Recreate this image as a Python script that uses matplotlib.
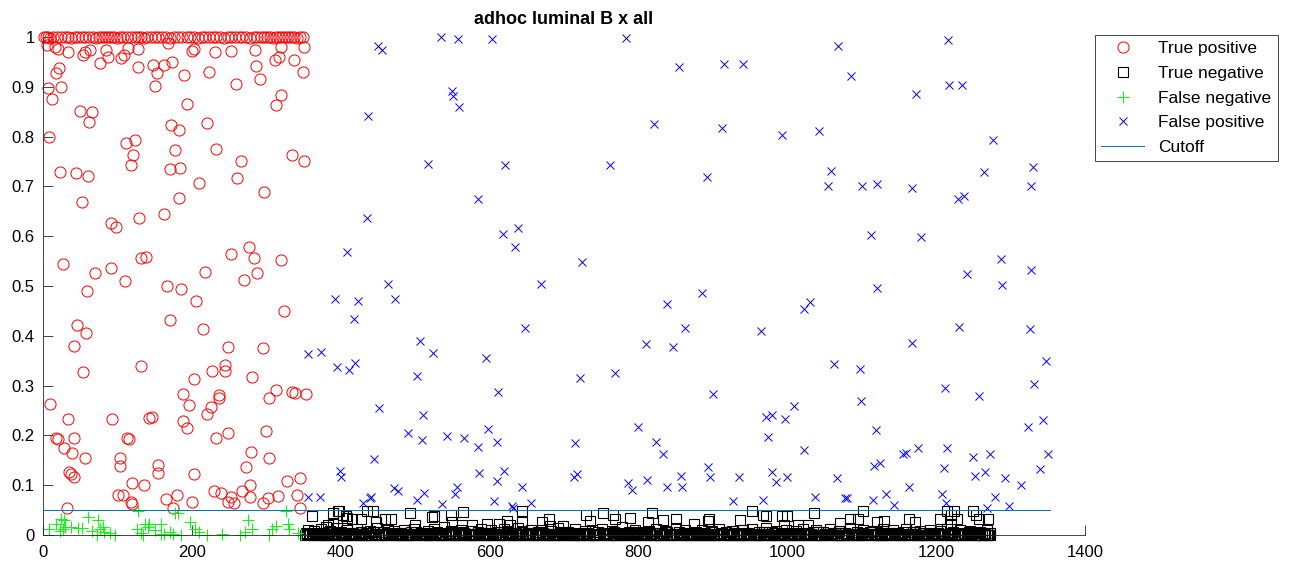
import numpy as np
import matplotlib
matplotlib.use("Agg")
import matplotlib.pyplot as plt

plt.rcParams['font.family'] = ['Liberation Sans', 'DejaVu Sans']

title = 'adhoc luminal B x all'
labels = ['True positive', 'True negative', 'False negative', 'False positive', 'Cutoff']
cutoff = 0.05
cutoff_x = [1, 1353]

# true positives (score > cutoff, positive samples)
tp_x = [1, 4, 7, 10, 14, 19, 24, 29, 33, 38, 43, 47, 52, 57, 62, 67, 71, 75, 79, 83,
        87, 91, 95, 99, 103, 108, 113, 118, 123, 127, 131, 136, 140, 145, 150, 155, 160, 165, 170, 176,
        181, 187, 193, 198, 203, 208, 213, 218, 223, 228, 233, 238, 243, 248, 253, 258, 263, 268, 273, 278,
        283, 288, 293, 297, 301, 305, 309, 313, 317, 321, 325, 329, 333, 337, 341, 345, 349,
        5, 16, 20, 34, 54, 56, 63, 77, 85, 88, 105, 109, 114, 128, 128, 148, 153, 150, 163, 173,
        168, 189, 200, 203, 223, 231, 253, 259, 285, 286, 292, 312, 317, 320, 337, 351, 349,
        7, 12, 17, 21, 24, 8, 50, 66, 62, 111, 123, 121, 118, 23, 45, 61, 53, 92, 98, 129, 163,
        172, 183, 177, 194, 221, 233, 171, 184, 210, 183, 266, 261, 297, 320, 313, 334, 351,
        277, 253, 283, 288, 320, 27, 70, 91, 132, 139, 218, 270, 110,
        59, 166, 185, 206, 324, 171, 215, 46, 58, 42, 249, 295, 54, 131, 227, 244, 244, 281, 203,
        9, 188, 196, 237, 237, 226, 220, 313, 304, 334, 338, 353, 33, 93, 142, 147, 188, 193, 300,
        18, 20, 41, 113, 115, 232, 249, 28, 39, 56, 104, 103, 155, 154, 280, 304, 273,
        35, 37, 42, 203, 120, 136, 278, 328, 345, 101, 107, 118, 119, 165, 180, 200, 230, 239,
        249, 253, 256, 267, 278, 296, 302, 316, 341, 345, 32, 175]
tp_y = [1.0, 0.999, 1.0, 0.998, 1.0, 1.0, 0.999, 1.0, 1.0, 0.998, 1.0, 1.0, 0.999, 1.0, 1.0, 1.0, 0.998, 1.0, 1.0, 0.999,
        1.0, 1.0, 1.0, 0.998, 1.0, 1.0, 0.999, 1.0, 1.0, 1.0, 1.0, 0.998, 1.0, 1.0, 0.999, 1.0, 1.0, 1.0, 0.998, 1.0,
        1.0, 0.999, 1.0, 1.0, 1.0, 0.998, 1.0, 1.0, 1.0, 0.999, 1.0, 1.0, 0.998, 1.0, 1.0, 1.0, 0.999, 1.0, 1.0, 0.998,
        1.0, 1.0, 0.999, 1.0, 1.0, 1.0, 0.998, 1.0, 1.0, 1.0, 0.999, 1.0, 1.0, 1.0, 0.998, 1.0, 1.0,
        0.984, 0.98, 0.976, 0.969, 0.964, 0.97, 0.974, 0.947, 0.974, 0.96, 0.957, 0.964, 0.978, 0.976, 0.94, 0.944, 0.927, 0.902, 0.944, 0.95,
        0.988, 0.924, 0.972, 0.976, 0.93, 0.97, 0.972, 0.905, 0.974, 0.942, 0.916, 0.954, 0.96, 0.98, 0.954, 0.98, 0.93,
        0.897, 0.876, 0.927, 0.938, 0.9, 0.80, 0.851, 0.85, 0.83, 0.788, 0.793, 0.764, 0.743, 0.728, 0.726, 0.721, 0.669, 0.627, 0.619, 0.637, 0.644,
        0.823, 0.813, 0.773, 0.865, 0.827, 0.776, 0.734, 0.736, 0.706, 0.676, 0.751, 0.717, 0.689, 0.884, 0.863, 0.764, 0.751,
        0.579, 0.564, 0.556, 0.527, 0.552, 0.544, 0.527, 0.536, 0.557, 0.558, 0.529, 0.512, 0.51,
        0.489, 0.50, 0.494, 0.469, 0.45, 0.432, 0.414, 0.422, 0.406, 0.38, 0.378, 0.375, 0.328, 0.34, 0.329, 0.341, 0.33, 0.317, 0.313,
        0.264, 0.283, 0.261, 0.281, 0.275, 0.258, 0.242, 0.291, 0.276, 0.287, 0.286, 0.283, 0.232, 0.232, 0.234, 0.236, 0.228, 0.214, 0.209,
        0.194, 0.193, 0.194, 0.194, 0.192, 0.195, 0.204, 0.174, 0.164, 0.155, 0.154, 0.139, 0.141, 0.124, 0.166, 0.154, 0.137,
        0.126, 0.122, 0.117, 0.122, 0.105, 0.10, 0.10, 0.108, 0.115, 0.08, 0.08, 0.066, 0.063, 0.072, 0.08, 0.066, 0.088, 0.084,
        0.067, 0.077, 0.064, 0.088, 0.077, 0.064, 0.074, 0.079, 0.08, 0.054, 0.055, 0.055]

# false negatives (score <= cutoff, positive samples)
fn_x = [8, 18, 24, 28, 27, 30, 23, 38, 47, 53, 72, 74, 76, 80, 82, 97, 126, 131, 134, 137,
        141, 143, 128, 159, 158, 170, 174, 177, 181, 185, 198, 204, 210, 220, 265, 272, 276, 281, 304, 308,
        313, 327, 329, 331, 343, 347, 60, 66, 90, 150, 162, 240]
fn_y = [0.013, 0.023, 0.033, 0.03, 0.013, 0.017, 0.008, 0.017, 0.015, 0.015, 0.001, 0.03, 0.013, 0.017, 0.006, 0.001, 0.013, 0.005, 0.001, 0.023,
        0.017, 0.023, 0.048, 0.023, 0.003, 0.006, 0.003, 0.044, 0.044, 0.001, 0.027, 0.013, 0.006, 0.001, 0.001, 0.006, 0.03, 0.013, 0.001, 0.013,
        0.018, 0.048, 0.023, 0.013, 0.005, 0.001, 0.036, 0.009, 0.004, 0.011, 0.002, 0.003]

# false positives (score > cutoff, negative samples)
fp_x = [450, 456, 535, 557, 603, 549, 551, 559, 436, 517, 621, 584, 435, 618, 638, 634, 409, 724, 464, 669,
        783, 854, 915, 940, 1068, 821, 912, 993, 1042, 762, 892, 1059, 1055,
        1216, 1086, 1217, 1235, 1173, 1276, 1264, 1330, 1328, 1101, 1121, 1168, 1230, 1237, 1112, 1180, 1287, 1242, 1327, 1289,
        392, 423, 473, 418, 648, 506, 524, 595, 395, 419, 411, 503, 722, 611, 451, 510, 598, 490, 509, 543,
        566, 585, 610, 715, 445, 399, 401, 586, 620, 610, 644, 713, 718, 471, 477, 556, 554, 439, 441, 430,
        502, 512, 536, 606, 630, 631, 655, 356, 372, 356, 373,
        886, 839, 863, 810, 847, 768, 965, 1022, 1031, 1063, 900, 1009, 971, 980, 997, 974, 800, 823, 833, 1022,
        894, 896, 935, 980, 985, 1000, 1067, 786, 792, 812, 838, 857, 859, 927, 968, 1037, 1078,
        1120, 1231, 1326, 1167, 1347, 1098, 1212, 1257, 1332, 1099, 1324, 1343, 1119, 1156, 1159, 1176, 1215, 1249, 1273, 1350,
        1116, 1125, 1210, 1252, 1265, 1292, 1314, 1339, 1080, 1115, 1133, 1144, 1164, 1208, 1213, 1279, 1298, 1268]
fp_y = [0.981, 0.974, 0.999, 0.995, 0.995, 0.892, 0.882, 0.86, 0.842, 0.744, 0.742, 0.674, 0.636, 0.604, 0.616, 0.579, 0.569, 0.549, 0.505, 0.505,
        0.997, 0.939, 0.945, 0.945, 0.982, 0.825, 0.817, 0.803, 0.811, 0.742, 0.718, 0.731, 0.70,
        0.993, 0.922, 0.904, 0.904, 0.886, 0.793, 0.728, 0.738, 0.70, 0.701, 0.705, 0.696, 0.675, 0.681, 0.602, 0.599, 0.554, 0.525, 0.532, 0.503,
        0.474, 0.469, 0.473, 0.433, 0.416, 0.39, 0.366, 0.355, 0.338, 0.345, 0.331, 0.32, 0.315, 0.288, 0.256, 0.24, 0.212, 0.204, 0.19, 0.199,
        0.194, 0.177, 0.186, 0.184, 0.153, 0.129, 0.116, 0.125, 0.129, 0.108, 0.097, 0.116, 0.122, 0.094, 0.088, 0.097, 0.082, 0.075, 0.077, 0.064,
        0.07, 0.085, 0.062, 0.068, 0.059, 0.055, 0.064, 0.077, 0.077, 0.363, 0.367,
        0.486, 0.463, 0.415, 0.384, 0.378, 0.326, 0.41, 0.454, 0.467, 0.343, 0.283, 0.259, 0.236, 0.24, 0.233, 0.197, 0.216, 0.186, 0.163, 0.171,
        0.137, 0.117, 0.116, 0.126, 0.106, 0.117, 0.114, 0.105, 0.09, 0.11, 0.097, 0.118, 0.097, 0.068, 0.07, 0.077, 0.075,
        0.495, 0.418, 0.414, 0.385, 0.35, 0.333, 0.295, 0.28, 0.303, 0.27, 0.217, 0.231, 0.211, 0.163, 0.164, 0.175, 0.174, 0.156, 0.163, 0.163,
        0.139, 0.144, 0.134, 0.119, 0.127, 0.115, 0.10, 0.132, 0.074, 0.07, 0.082, 0.06, 0.097, 0.082, 0.064, 0.077, 0.059, 0.055]

# true negatives above the dense band
tn_x = [362, 389, 398, 403, 408, 383, 380, 389, 397, 407, 415, 427, 435, 444, 447, 459, 468, 493, 500, 522,
        526, 548, 550, 564, 563, 576, 597, 613, 623, 628, 644, 643, 670, 680, 681, 698,
        729, 735, 753, 766, 768, 789, 813, 818, 833, 850, 874, 895, 894, 936, 952, 968, 971, 993, 999, 996, 1015,
        1036, 1028, 1071, 1084, 1095, 1102, 1121, 1130, 1163, 1172, 1205, 1215, 1224, 1220, 1228, 1250, 1254, 1257, 1270, 1220]
tn_y = [0.039, 0.045, 0.048, 0.04, 0.035, 0.021, 0.017, 0.023, 0.048, 0.039, 0.032, 0.032, 0.048, 0.048, 0.027, 0.033, 0.032, 0.044, 0.021, 0.037,
        0.038, 0.041, 0.027, 0.047, 0.021, 0.021, 0.023, 0.023, 0.028, 0.02, 0.049, 0.027, 0.027, 0.032, 0.018, 0.018,
        0.041, 0.028, 0.044, 0.04, 0.033, 0.035, 0.027, 0.045, 0.03, 0.032, 0.023, 0.033, 0.028, 0.03, 0.049, 0.041, 0.038, 0.039, 0.039, 0.021, 0.02,
        0.045, 0.021, 0.025, 0.033, 0.032, 0.049, 0.027, 0.028, 0.032, 0.027, 0.033, 0.048, 0.049, 0.04, 0.032, 0.049, 0.04, 0.032, 0.032, 0.023]

# true negatives in the dense band just above zero
tn_band_x = [353, 356, 359, 364, 368, 373, 377, 382, 386, 391,
             395, 400, 404, 409, 413, 418, 422, 427, 431, 436,
             440, 445, 449, 454, 458, 463, 467, 472, 476, 481,
             485, 490, 494, 499, 503, 508, 512, 517, 521, 526,
             530, 535, 539, 544, 548, 553, 557, 562, 566, 571,
             575, 580, 584, 589, 593, 598, 602, 607, 611, 616,
             620, 625, 629, 634, 638, 643, 647, 652, 656, 661,
             665, 670, 674, 679, 683, 688, 692, 697, 701, 706,
             710, 715, 719, 724, 728, 733, 737, 742, 746, 751,
             755, 760, 764, 769, 773, 778, 782, 787, 791, 796,
             800, 805, 809, 814, 818, 823, 827, 832, 836, 841,
             845, 850, 854, 859, 863, 868, 872, 877, 881, 886,
             890, 895, 899, 904, 908, 913, 917, 922, 926, 931,
             935, 940, 944, 949, 953, 958, 962, 967, 971, 976,
             980, 985, 989, 994, 998, 1003, 1007, 1012, 1016, 1021,
             1025, 1030, 1034, 1039, 1043, 1048, 1052, 1057, 1061, 1066,
             1070, 1075, 1079, 1084, 1088, 1093, 1097, 1102, 1106, 1111,
             1115, 1120, 1124, 1129, 1133, 1138, 1142, 1147, 1151, 1156,
             1160, 1165, 1169, 1174, 1178, 1183, 1187, 1192, 1196, 1201,
             1205, 1210, 1214, 1219, 1223, 1228, 1232, 1237, 1241, 1246,
             1250, 1255, 1259, 1264, 1268, 1271, 1273]
tn_band_y = [0.004, 0.011, 0.002, 0.008, 0.000, 0.013, 0.005, 0.001, 0.009, 0.003,
             0.015, 0.006, 0.000, 0.010, 0.004, 0.002, 0.012, 0.007, 0.001, 0.005,
             0.009, 0.000, 0.014, 0.003, 0.006, 0.011, 0.002, 0.008, 0.000, 0.004,
             0.010, 0.001, 0.007, 0.013, 0.003, 0.005, 0.000, 0.009, 0.002, 0.012,
             0.006, 0.001, 0.016, 0.004, 0.008, 0.000, 0.003, 0.011, 0.005, 0.002,
             0.009, 0.000, 0.006, 0.013, 0.001, 0.004, 0.010, 0.002, 0.007, 0.000,
             0.012, 0.003, 0.005, 0.001, 0.015, 0.008, 0.000, 0.004, 0.010, 0.002,
             0.006, 0.011, 0.001, 0.003, 0.009, 0.000, 0.014, 0.005, 0.002, 0.007,
             0.000, 0.012, 0.004, 0.001, 0.008, 0.003, 0.010, 0.000, 0.006, 0.013,
             0.002, 0.005, 0.009, 0.001, 0.004, 0.017, 0.000, 0.007, 0.003, 0.011,
             0.006, 0.002, 0.000, 0.009, 0.004, 0.012, 0.001, 0.005, 0.008, 0.000,
             0.003, 0.014, 0.006, 0.002, 0.010, 0.000, 0.004, 0.007, 0.001, 0.011,
             0.005, 0.000, 0.009, 0.003, 0.013, 0.002, 0.006, 0.000, 0.008, 0.004,
             0.001, 0.010, 0.005, 0.000, 0.012, 0.003, 0.007, 0.002, 0.015, 0.000,
             0.006, 0.009, 0.001, 0.004, 0.011, 0.002, 0.000, 0.008, 0.005, 0.013,
             0.003, 0.000, 0.007, 0.010, 0.001, 0.006, 0.002, 0.012, 0.004, 0.000,
             0.009, 0.005, 0.001, 0.014, 0.003, 0.007, 0.000, 0.011, 0.002, 0.006,
             0.008, 0.000, 0.004, 0.012, 0.001, 0.005, 0.010, 0.003, 0.000, 0.007,
             0.013, 0.002, 0.006, 0.000, 0.009, 0.004, 0.001, 0.011, 0.005, 0.000,
             0.008, 0.003, 0.012, 0.001, 0.006, 0.000, 0.010, 0.004, 0.002, 0.009,
             0.005, 0.000, 0.007, 0.003, 0.011, 0.001, 0.004]

# more true negatives sitting on zero, between the band points above
tn_low_x = [355, 361, 366, 371, 375, 380, 384, 389, 393, 398,
            402, 407, 411, 416, 420, 425, 429, 434, 438, 443,
            447, 452, 456, 461, 465, 470, 474, 479, 483, 488,
            492, 497, 501, 506, 510, 515, 519, 524, 528, 533,
            537, 542, 546, 551, 555, 560, 564, 569, 573, 578,
            582, 587, 591, 596, 600, 605, 609, 614, 618, 623,
            627, 632, 636, 641, 645, 650, 654, 659, 663, 668,
            672, 677, 681, 686, 690, 695, 699, 704, 708, 713,
            717, 722, 726, 731, 735, 740, 744, 749, 753, 758,
            762, 767, 771, 776, 780, 785, 789, 794, 798, 803,
            807, 812, 816, 821, 825, 830, 834, 839, 843, 848,
            852, 857, 861, 866, 870, 875, 879, 884, 888, 893,
            897, 902, 906, 911, 915, 920, 924, 929, 933, 938,
            942, 947, 951, 956, 960, 965, 969, 974, 978, 983,
            987, 992, 996, 1001, 1005, 1010, 1014, 1019, 1023, 1028,
            1032, 1037, 1041, 1046, 1050, 1055, 1059, 1064, 1068, 1073,
            1077, 1082, 1086, 1091, 1095, 1100, 1104, 1109, 1113, 1118,
            1122, 1127, 1131, 1136, 1140, 1145, 1149, 1154, 1158, 1163,
            1167, 1172, 1176, 1181, 1185, 1190, 1194, 1199, 1203, 1208,
            1212, 1217, 1221, 1226, 1230, 1235, 1239, 1244, 1248, 1253,
            1257, 1262, 1266, 1270]
tn_low_y = [0.002, 0.000, 0.005, 0.001, 0.003, 0.000, 0.006, 0.002, 0.000, 0.004,
            0.001, 0.000, 0.003, 0.005, 0.000, 0.002, 0.001, 0.004, 0.000, 0.006,
            0.002, 0.000, 0.003, 0.001, 0.005, 0.000, 0.002, 0.004, 0.000, 0.001,
            0.003, 0.000, 0.006, 0.002, 0.000, 0.004, 0.001, 0.000, 0.005, 0.002,
            0.000, 0.003, 0.001, 0.004, 0.000, 0.002, 0.006, 0.000, 0.001, 0.003,
            0.000, 0.005, 0.002, 0.000, 0.004, 0.001, 0.003, 0.000, 0.002, 0.006,
            0.000, 0.001, 0.004, 0.002, 0.000, 0.003, 0.005, 0.000, 0.001, 0.002,
            0.004, 0.000, 0.003, 0.001, 0.000, 0.006, 0.002, 0.000, 0.004, 0.001,
            0.003, 0.000, 0.002, 0.005, 0.000, 0.001, 0.003, 0.000, 0.004, 0.002,
            0.000, 0.006, 0.001, 0.003, 0.000, 0.002, 0.004, 0.000, 0.001, 0.005,
            0.002, 0.000, 0.003, 0.001, 0.004, 0.000, 0.002, 0.006, 0.000, 0.003,
            0.001, 0.000, 0.005, 0.002, 0.000, 0.004, 0.001, 0.003, 0.000, 0.002,
            0.006, 0.000, 0.001, 0.004, 0.002, 0.000, 0.003, 0.005, 0.000, 0.001,
            0.002, 0.004, 0.000, 0.003, 0.001, 0.000, 0.006, 0.002, 0.000, 0.004,
            0.001, 0.003, 0.000, 0.002, 0.005, 0.000, 0.001, 0.003, 0.000, 0.004,
            0.002, 0.000, 0.006, 0.001, 0.003, 0.000, 0.002, 0.004, 0.000, 0.001,
            0.005, 0.002, 0.000, 0.003, 0.001, 0.004, 0.000, 0.002, 0.006, 0.000,
            0.003, 0.001, 0.000, 0.005, 0.002, 0.000, 0.004, 0.001, 0.003, 0.000,
            0.002, 0.006, 0.000, 0.001, 0.004, 0.002, 0.000, 0.003, 0.005, 0.000,
            0.001, 0.002, 0.004, 0.000, 0.003, 0.001, 0.000, 0.006, 0.002, 0.000,
            0.004, 0.001, 0.003, 0.000]

# the bulk of the true negatives, practically at zero
tn_zero_x = [352, 358, 363, 369, 374, 379, 383, 388, 392, 397,
             401, 406, 410, 415, 419, 424, 428, 433, 437, 442,
             446, 451, 455, 460, 464, 469, 473, 478, 482, 487,
             491, 496, 500, 505, 509, 514, 518, 523, 527, 532,
             536, 541, 545, 550, 554, 559, 563, 568, 572, 577,
             581, 586, 590, 595, 599, 604, 608, 613, 617, 622,
             626, 631, 635, 640, 644, 649, 653, 658, 662, 667,
             671, 676, 680, 685, 689, 694, 698, 703, 707, 712,
             716, 721, 725, 730, 734, 739, 743, 748, 752, 757,
             761, 766, 770, 775, 779, 784, 788, 793, 797, 802,
             806, 811, 815, 820, 824, 829, 833, 838, 842, 847,
             851, 856, 860, 865, 869, 874, 878, 883, 887, 892,
             896, 901, 905, 910, 914, 919, 923, 928, 932, 937,
             941, 946, 950, 955, 959, 964, 968, 973, 977, 982,
             986, 991, 995, 1000, 1004, 1009, 1013, 1018, 1022, 1027,
             1031, 1036, 1040, 1045, 1049, 1054, 1058, 1063, 1067, 1072,
             1076, 1081, 1085, 1090, 1094, 1099, 1103, 1108, 1112, 1117,
             1121, 1126, 1130, 1135, 1139, 1144, 1148, 1153, 1157, 1162,
             1166, 1171, 1175, 1180, 1184, 1189, 1193, 1198, 1202, 1207,
             1211, 1216, 1220, 1225, 1229, 1234, 1238, 1243, 1247, 1252,
             1256, 1261, 1265, 1269, 1272]
tn_zero_y = [0.000, 0.001, 0.000, 0.002, 0.000, 0.001, 0.000, 0.000, 0.002, 0.001,
             0.000, 0.002, 0.001, 0.000, 0.000, 0.001, 0.002, 0.000, 0.001, 0.000,
             0.002, 0.000, 0.001, 0.000, 0.000, 0.002, 0.001, 0.000, 0.001, 0.002,
             0.000, 0.001, 0.000, 0.002, 0.000, 0.000, 0.001, 0.002, 0.000, 0.001,
             0.001, 0.000, 0.002, 0.000, 0.001, 0.000, 0.000, 0.002, 0.001, 0.000,
             0.000, 0.002, 0.000, 0.001, 0.000, 0.001, 0.002, 0.000, 0.000, 0.001,
             0.002, 0.000, 0.001, 0.000, 0.002, 0.000, 0.001, 0.000, 0.000, 0.002,
             0.001, 0.000, 0.000, 0.002, 0.001, 0.000, 0.001, 0.000, 0.002, 0.000,
             0.000, 0.001, 0.002, 0.000, 0.000, 0.001, 0.000, 0.002, 0.001, 0.000,
             0.001, 0.000, 0.000, 0.002, 0.000, 0.001, 0.002, 0.000, 0.001, 0.000,
             0.000, 0.002, 0.001, 0.000, 0.001, 0.000, 0.000, 0.002, 0.000, 0.001,
             0.002, 0.000, 0.001, 0.000, 0.000, 0.001, 0.002, 0.000, 0.001, 0.000,
             0.000, 0.001, 0.000, 0.002, 0.001, 0.000, 0.000, 0.001, 0.002, 0.000,
             0.001, 0.000, 0.002, 0.000, 0.000, 0.001, 0.000, 0.002, 0.001, 0.000,
             0.000, 0.002, 0.001, 0.000, 0.001, 0.000, 0.002, 0.000, 0.000, 0.001,
             0.002, 0.000, 0.000, 0.001, 0.000, 0.002, 0.001, 0.000, 0.001, 0.000,
             0.000, 0.001, 0.002, 0.000, 0.000, 0.001, 0.000, 0.002, 0.000, 0.001,
             0.001, 0.000, 0.000, 0.002, 0.001, 0.000, 0.002, 0.000, 0.001, 0.000,
             0.000, 0.002, 0.001, 0.000, 0.000, 0.001, 0.000, 0.002, 0.001, 0.000,
             0.002, 0.000, 0.001, 0.000, 0.001, 0.000, 0.002, 0.000, 0.000, 0.001,
             0.000, 0.001, 0.002, 0.000, 0.001]

x_ticks = [0, 200, 400, 600, 800, 1000, 1200, 1400]
y_ticks = [0, 0.1, 0.2, 0.3, 0.4, 0.5, 0.6, 0.7, 0.8, 0.9, 1]
y_tick_labels = ['0', '0.1', '0.2', '0.3', '0.4', '0.5', '0.6', '0.7', '0.8', '0.9', '1']

fig = plt.figure(figsize=(12.95, 5.70), dpi=100)
ax = fig.add_axes([43 / 1295, 1 - 535 / 570, (1085 - 43) / 1295, 498 / 570])

mk = dict(linestyle='none', clip_on=False)
ax.plot(tp_x, tp_y, marker='o', ms=8, mfc='none', mec='r', mew=0.7, label=labels[0], **mk)
ax.plot(tn_zero_x + tn_low_x + tn_band_x + tn_x, tn_zero_y + tn_low_y + tn_band_y + tn_y,
        marker='s', ms=6.5, mfc='none', mec='k', mew=0.8, label=labels[1], **mk)
ax.plot(fn_x, fn_y, marker='+', ms=8, mec=(0, 1, 0), mew=0.7, label=labels[2], **mk)
ax.plot(fp_x, fp_y, marker='x', ms=6, mec='b', mew=0.7, label=labels[3], **mk)
ax.plot(cutoff_x, [cutoff, cutoff], color=(0, 0.447, 0.741), lw=0.7, label=labels[4])

ax.set_xlim(0, 1400)
ax.set_ylim(0, 1)
ax.set_xticks(x_ticks)
ax.set_yticks(y_ticks)
ax.set_yticklabels(y_tick_labels)
ax.tick_params(direction='in', length=7, width=0.6, labelsize=12, colors='0.15', labelcolor='k')
ax.tick_params(axis='x', pad=7)
ax.tick_params(axis='y', pad=6)
ax.spines['top'].set_visible(False)
ax.spines['right'].set_visible(False)
for s in ['left', 'bottom']:
    ax.spines[s].set_color('0.15')
    ax.spines[s].set_linewidth(0.6)
ax.set_title(title, fontsize=13, fontweight='bold', pad=9)

leg = ax.legend(loc='upper left', bbox_to_anchor=(1095 / 1295, 1 - 35 / 570),
                bbox_transform=fig.transFigure, fontsize=12.5, frameon=True, fancybox=False,
                edgecolor='0.15', framealpha=1, handlelength=2.5, handletextpad=0.8,
                labelspacing=0.55, borderpad=0.35, borderaxespad=0)
leg.get_frame().set_linewidth(0.6)

fig.savefig('out.png', dpi=100)
